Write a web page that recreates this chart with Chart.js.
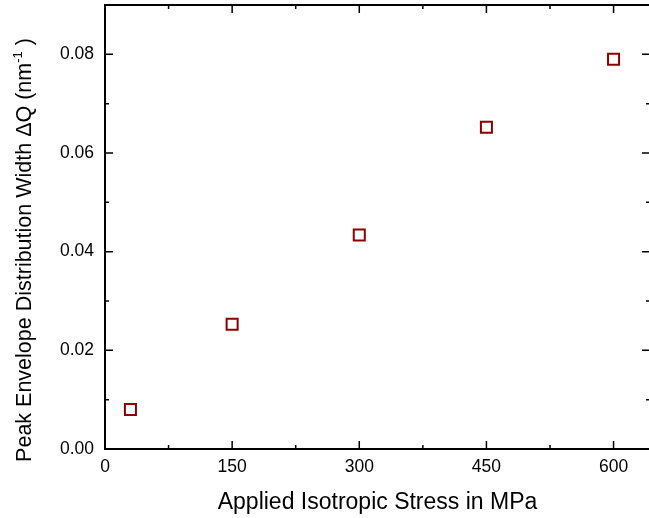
<!DOCTYPE html>
<html lang="en">
  <head>
    <meta charset="UTF-8" />
    <meta name="viewport" content="width=device-width, initial-scale=1.0" />
    <title>Peak Envelope Width vs Stress</title>
    <style>
      html, body { margin: 0; padding: 0; background: #fff; overflow: hidden; }
      #wrap { position: relative; width: 652px; height: 518px; }
    </style>
  </head>
  <body>
    <div id="wrap"><canvas id="my-chart"></canvas></div>

    <script src="https://cdn.jsdelivr.net/npm/chart.js"></script>
    <script>
      // applied isotropic stress (MPa) and peak envelope width dQ (nm^-1)
      const stress = [30, 150, 300, 450, 600];
      const peakWidth = [0.008, 0.0253, 0.0434, 0.0652, 0.079];
      const xTicks = [0, 75, 150, 225, 300, 375, 450, 525, 600];

      const FONT = "'Liberation Sans', Arial, sans-serif";
      Chart.defaults.color = "#000";
      Chart.defaults.font.family = FONT;

      // box frame with inward ticks on all four sides
      const framePlugin = {
        id: "frame",
        afterDraw(chart) {
          const { ctx, chartArea: a, scales } = chart;
          ctx.save();
          ctx.strokeStyle = "#000";
          ctx.lineWidth = 2;
          ctx.strokeRect(a.left, a.top, a.right - a.left, a.bottom - a.top);

          ctx.lineWidth = 1.5;
          ctx.beginPath();
          scales.x.ticks.forEach((t) => {
            const px = scales.x.getPixelForValue(t.value);
            const len = t.value % 150 === 0 ? 8 : 4;
            ctx.moveTo(px, a.bottom);
            ctx.lineTo(px, a.bottom - len);
            ctx.moveTo(px, a.top);
            ctx.lineTo(px, a.top + len);
          });
          scales.y.ticks.forEach((t) => {
            const py = scales.y.getPixelForValue(t.value);
            const len = Math.round(t.value * 100) % 2 === 0 ? 8 : 4;
            ctx.moveTo(a.left, py);
            ctx.lineTo(a.left + len, py);
            ctx.moveTo(a.right, py);
            ctx.lineTo(a.right - len, py);
          });
          ctx.stroke();

          // y axis title with superscript unit
          const main = "Peak Envelope Distribution Width \u0394Q (nm";
          const sup = "-1";
          const tail = " )";
          const f = "21.5px " + FONT;
          const fs = "13px " + FONT;
          ctx.font = f;
          const w1 = ctx.measureText(main).width;
          const w3 = ctx.measureText(tail).width;
          ctx.font = fs;
          const w2 = ctx.measureText(sup).width;
          const total = w1 + w2 + w3;
          ctx.translate(31, 250);
          ctx.rotate(-Math.PI / 2);
          ctx.fillStyle = "#000";
          ctx.textBaseline = "alphabetic";
          ctx.textAlign = "left";
          let x = -total / 2;
          ctx.font = f;
          ctx.fillText(main, x, 0);
          x += w1;
          ctx.font = fs;
          ctx.fillText(sup, x, -9);
          x += w2;
          ctx.font = f;
          ctx.fillText(tail, x, 0);
          ctx.restore();
        },
      };

      const chartEle = document.getElementById("my-chart").getContext("2d");

      const chartConfig = {
        type: "scatter",
        data: {
          datasets: [
            {
              label: "Peak width",
              data: stress.map((s, i) => ({ x: s, y: peakWidth[i] })),
              pointStyle: "rect",
              pointRadius: 7.8,
              pointHoverRadius: 7.8,
              borderWidth: 2,
              borderColor: "#8b0000",
              backgroundColor: "#ffffff",
            },
          ],
        },
        options: {
          responsive: true,
          maintainAspectRatio: false,
          animation: false,
          layout: {
            autoPadding: false,
            padding: { top: 5, right: 2, left: 0, bottom: 0 },
          },
          plugins: {
            legend: { display: false },
            tooltip: { enabled: false },
          },
          scales: {
            x: {
              type: "linear",
              min: 0,
              max: 643,
              grid: { display: false, drawTicks: false },
              border: { display: false },
              afterBuildTicks(scale) {
                scale.ticks = xTicks.map((v) => ({ value: v }));
              },
              afterFit(scale) {
                scale.height = 69;
                scale.paddingLeft = 0;
                scale.paddingRight = 0;
              },
              ticks: {
                padding: 8,
                maxRotation: 0,
                autoSkip: false,
                font: { size: 17.5 },
                callback: (v) => (v % 150 === 0 ? String(v) : ""),
              },
              title: {
                display: true,
                text: "Applied Isotropic Stress in MPa",
                font: { size: 23 },
                padding: { top: 0, bottom: 2 },
              },
            },
            y: {
              min: 0,
              max: 0.09,
              grid: { display: false, drawTicks: false },
              border: { display: false },
              afterFit(scale) {
                scale.width = 105;
                scale.paddingTop = 0;
                scale.paddingBottom = 0;
              },
              ticks: {
                stepSize: 0.01,
                padding: 11,
                autoSkip: false,
                font: { size: 17.5 },
                callback: (v) =>
                  Math.round(v * 100) % 2 === 0 ? Number(v).toFixed(2) : "",
              },
            },
          },
        },
        plugins: [framePlugin],
      };

      const chart = new Chart(chartEle, chartConfig);
    </script>
  </body>
</html>
